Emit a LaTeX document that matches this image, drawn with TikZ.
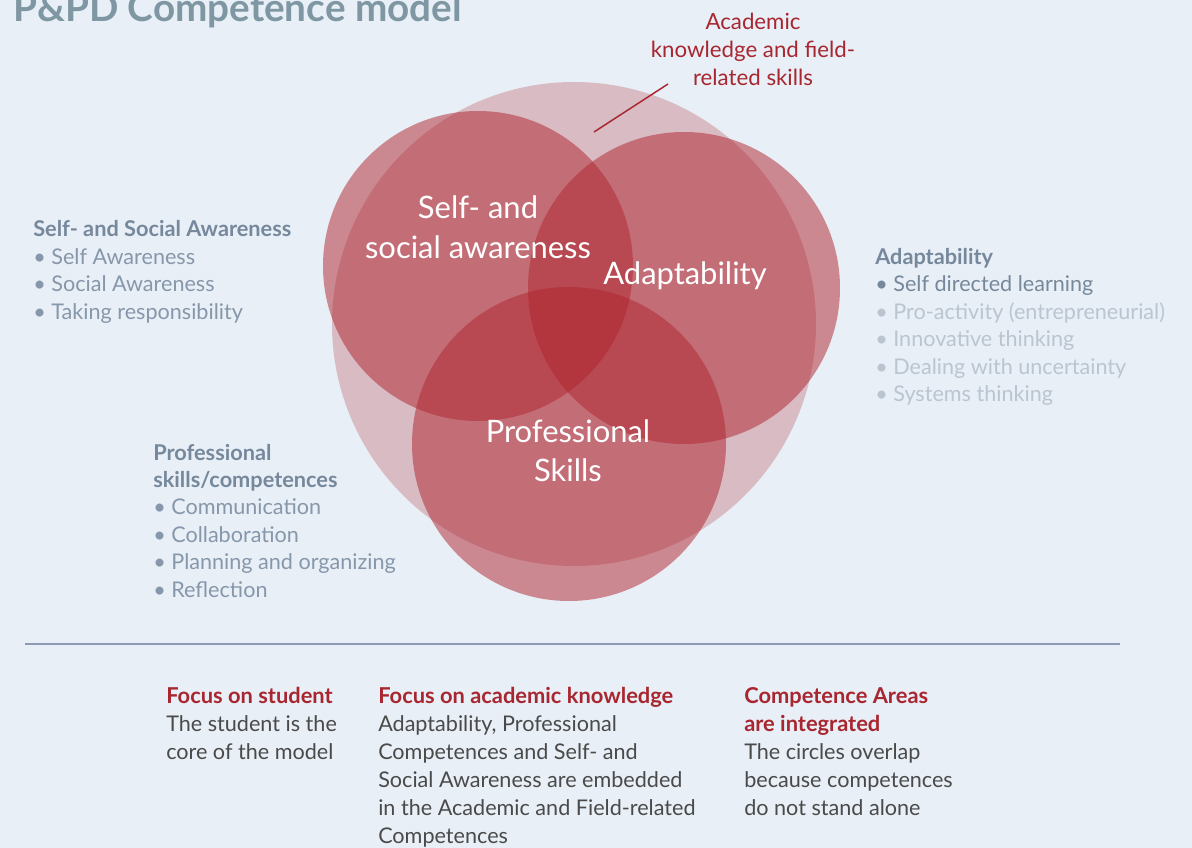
\documentclass[tikz,border=0pt]{standalone}
\usepackage{fontspec}
\setmainfont{Lato}
\usetikzlibrary{positioning}

\definecolor{bgblue}{HTML}{E8EFF6}
\definecolor{circred}{RGB}{175,35,45}
\definecolor{titlegrey}{HTML}{7E97A2}
\definecolor{headgrey}{HTML}{76889C}
\definecolor{itemgrey}{HTML}{8797AB}
\definecolor{fadegrey}{HTML}{BAC5D1}
\definecolor{darkred}{HTML}{A8262F}
\definecolor{bodygrey}{HTML}{4A4A4A}
\definecolor{rulegrey}{HTML}{8C9BB3}

\begin{document}
\begin{tikzpicture}[x=0.75pt, y=-0.75pt,
    ring/.style={fill=circred, fill opacity=0.5},
    circlabel/.style={text=white, font=\fontsize{23.2}{28}\selectfont, anchor=base, inner sep=0},
    head/.style={text=headgrey, font=\bfseries\fontsize{16.3}{19}\selectfont, anchor=base west, inner sep=0},
    item/.style={text=itemgrey, font=\fontsize{16.2}{19}\selectfont, anchor=base west, inner sep=0},
    redhead/.style={text=darkred, font=\bfseries\fontsize{16.4}{19}\selectfont, anchor=base west, inner sep=0},
    body/.style={text=bodygrey, font=\fontsize{16.2}{19}\selectfont, anchor=base west, inner sep=0}]

\useasboundingbox (0,0) rectangle (1192,848);
\clip (0,0) rectangle (1192,848);
\fill[bgblue] (0,0) rectangle (1192,848);

\node[text=titlegrey, font=\bfseries\fontsize{29}{34}\selectfont, anchor=base west, inner sep=0]
    (title) at (13,22) {P\&PD Competence model};

% circles
\begin{scope}
    \fill[circred, fill opacity=0.25] (574,324) circle (242);
    \fill[ring] (478,266) circle (155);
    \fill[ring] (684,288) circle (156);
    \fill[ring] (569,444) circle (157);
\end{scope}

\node[circlabel] (selfa) at (478,219) {Self- and};
\node[circlabel] (selfb) at (478,259) {social awareness};
\node[circlabel] (adapt) at (685,285) {Adaptability};
\node[circlabel] (profa) at (568,442) {Professional};
\node[circlabel] (profb) at (568,481) {Skills};

% academic label
\node[text=darkred, font=\fontsize{16.7}{21}\selectfont, align=center, anchor=north, inner sep=0]
    (acad) at (753,13) {Academic\\knowledge and field-\\related skills};
\coordinate (acadend) at (594,132);
\coordinate (acadtop) at (668,84);
\draw[darkred, line width=1.1pt] (acadtop) -- (acadend);

% side lists
\node[head] (sh) at (33,237) {Self- and Social Awareness};
\foreach \txt [count=\i] in {Self Awareness, Social Awareness, Taking responsibility}
    \node[item] (s\i) at (33,{237+27.5*\i}) {• \txt};

\node[head] (ah) at (875,265) {Adaptability};
\node[item, text=headgrey] (a1) at (875,292) {• Self directed learning};
\foreach \txt [count=\i] in {Pro-activity (entrepreneurial), Innovative thinking,
        Dealing with uncertainty, Systems thinking}
    \node[item, text=fadegrey] (a\i) at (875,{292+27.5*\i}) {• \txt};

\node[head] (ph) at (153,460) {Professional};
\node[head] (ph2) at (153,487) {skills/competences};
\foreach \txt [count=\i] in {Communication, Collaboration, Planning and organizing, Reflection}
    \node[item] (p\i) at (153,{487+27.5*\i}) {• \txt};

% rule
\coordinate (rl) at (25,644);
\coordinate (rr) at (1120,644);
\draw[rulegrey, line width=1pt] (rl) -- (rr);

% bottom columns
\node[redhead] (f1) at (166,703) {Focus on student};
\node[body] (f1a) at (166,731) {The student is the};
\node[body] (f1b) at (166,759) {core of the model};

\node[redhead] (f2) at (378,703) {Focus on academic knowledge};
\foreach \txt [count=\i] in {{Adaptability, Professional}, Competences and Self- and,
        Social Awareness are embedded, in the Academic and Field-related, Competences}
    \node[body] (f2\i) at (378,{703+28*\i}) {\txt};

\node[redhead] (f3) at (744,703) {Competence Areas};
\node[redhead] (f3b) at (744,731) {are integrated};
\foreach \txt [count=\i] in {The circles overlap, because competences, do not stand alone}
    \node[body] (f3\i) at (744,{731+28*\i}) {\txt};

\end{tikzpicture}
\end{document}
